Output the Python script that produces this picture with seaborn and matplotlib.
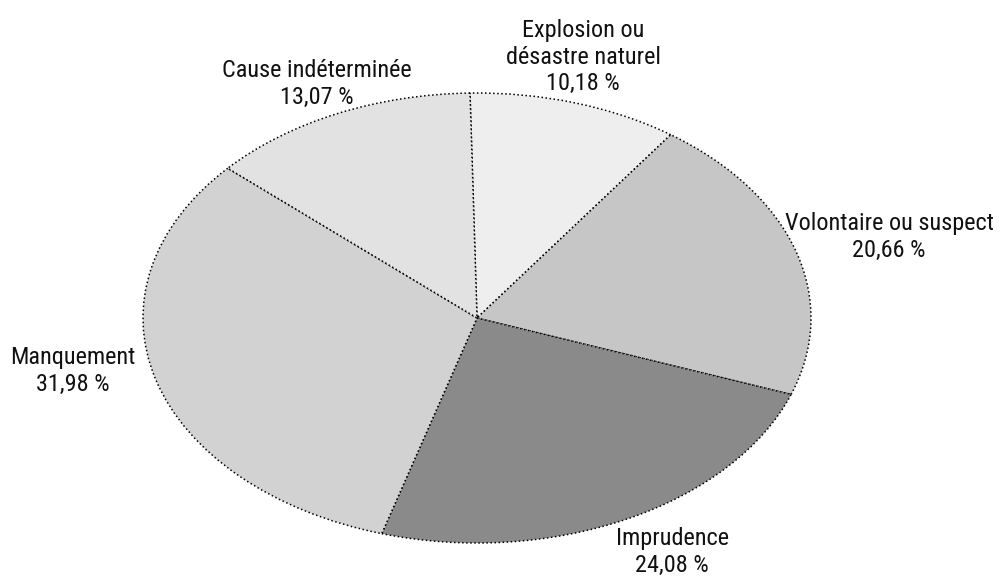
import matplotlib
matplotlib.use('Agg')
import matplotlib.pyplot as plt
import seaborn as sns

# ── Data ───────────────────────────────────────────────────────────────
causes = ['Explosion ou\ndésastre naturel', 'Volontaire ou suspect', 'Imprudence',
          'Manquement', 'Cause indéterminée']
shares = [10.18, 20.66, 24.08, 31.98, 13.07]
greys = ['#eeeeee', '#c6c6c6', '#8a8a8a', '#d2d2d2', '#e2e2e2']

sns.set_theme(style='white')
plt.rcParams['font.family'] = ['Roboto Condensed', 'DejaVu Sans']

fig = plt.figure(figsize=(10, 5.79), dpi=100)
ax = fig.add_axes([0, 0, 1, 1])

ax.pie(shares, colors=greys, startangle=91.2, counterclock=False, radius=1,
       wedgeprops=dict(edgecolor='black', linestyle=':', linewidth=1.1))

# squash the pie into an ellipse: centre ~ (477, 318) px, semi-axes 334 x 225 px
cx, cy, a, b = 477, 318, 334, 225
ax.set_aspect('auto')
ax.set_xlim(-cx / a, (1000 - cx) / a)
ax.set_ylim(-(579 - cy) / b, cy / b)
ax.axis('off')

# label block centres in pixels (x, y from top)
label_pos = [(583, 57), (889, 237), (672, 552), (73, 371), (317, 84)]
for name, val, (px, py) in zip(causes, shares, label_pos):
    txt = f"{name}\n{val:.2f} %".replace('.', ',')
    fig.text(px / 1000, 1 - py / 579, txt, ha='center', va='center',
             multialignment='center', fontsize=17.5, color='#111111', linespacing=1.2)

fig.savefig('out.png', dpi=100, facecolor='white')
